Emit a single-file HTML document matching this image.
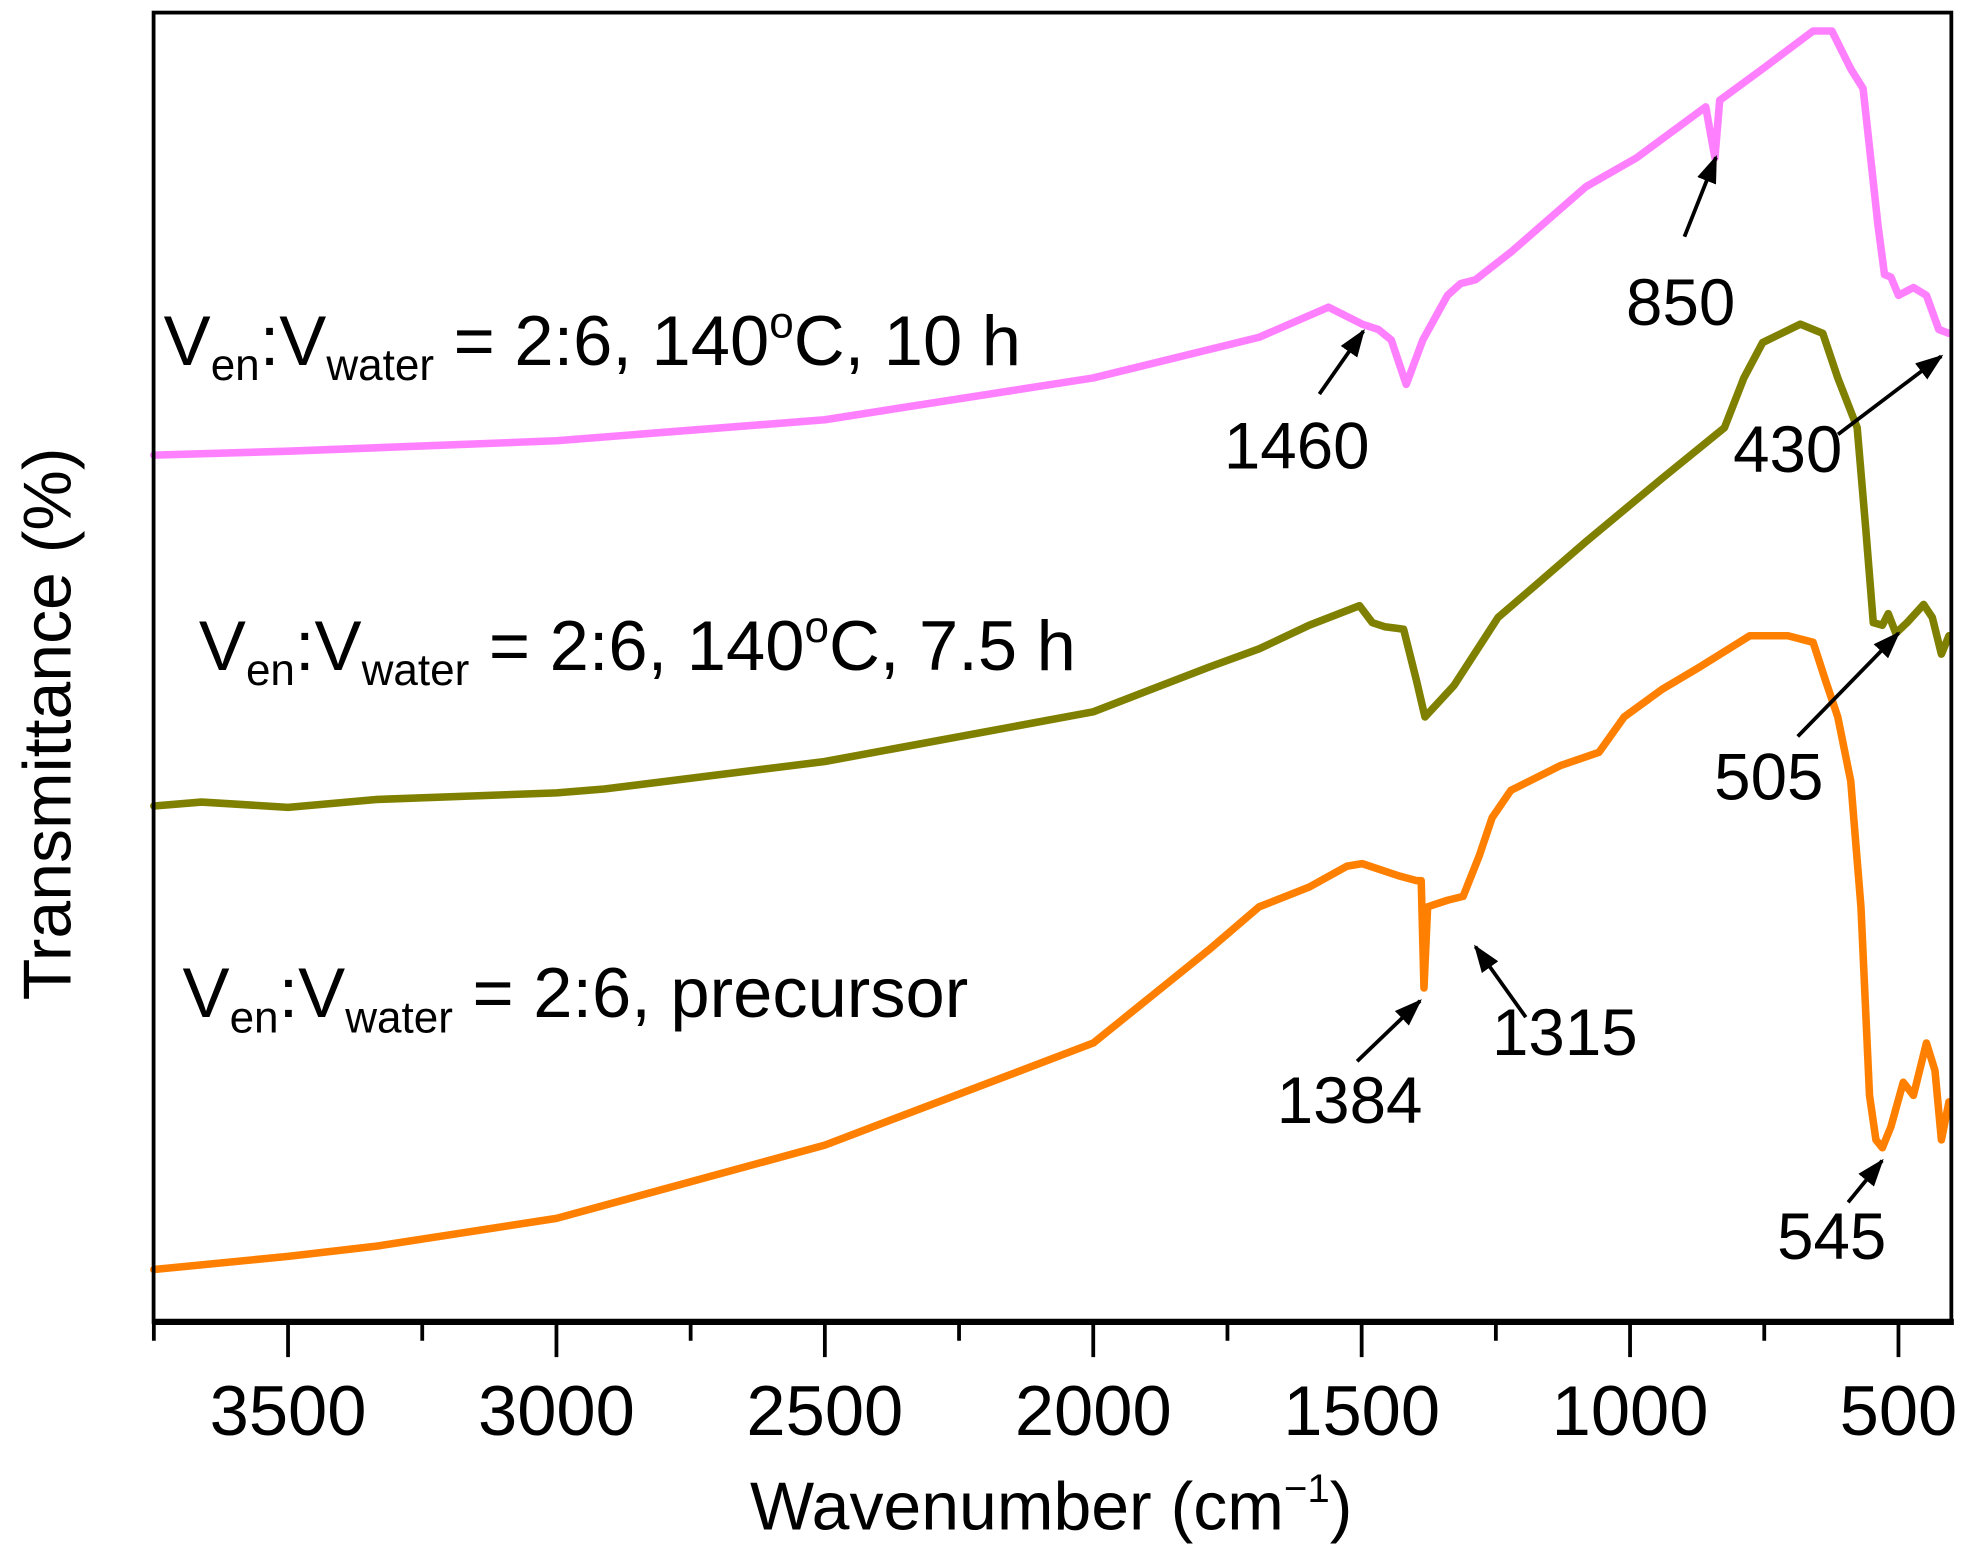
<!DOCTYPE html>
<html><head><meta charset="utf-8"><style>
html,body{margin:0;padding:0;background:#fff}
svg{display:block}
text{font-family:"Liberation Sans",Arial,sans-serif;fill:#000}
</style></head><body>
<svg id="chart" width="1974" height="1551" viewBox="0 0 1568 1232" xmlns="http://www.w3.org/2000/svg">
<defs><marker id="ah" markerWidth="22" markerHeight="16" refX="20" refY="8" orient="auto" markerUnits="userSpaceOnUse" viewBox="0 0 22 16"><path d="M0,0 L22,8 L0,16 Z" fill="#000"/></marker></defs>
<g id="plot"></g>
<rect x="122" y="10" width="1428" height="1040" fill="none" stroke="#000" stroke-width="3"/>
<line x1="121" y1="1050" x2="1552" y2="1050" stroke="#000" stroke-width="5"/>
<g id="xticks"></g>
<text x="835" y="1215" font-size="54" text-anchor="middle">Wavenumber (cm<tspan dy="-22" font-size="32">−1</tspan><tspan dy="22">)</tspan></text>
<text transform="translate(56,575) rotate(-90)" font-size="54" text-anchor="middle">Transmittance (%)</text>
<text x="130" y="290" font-size="56">V<tspan dy="12" font-size="35">en</tspan><tspan dy="-12">:V</tspan><tspan dy="12" font-size="35">water</tspan><tspan dy="-12"> = 2:6, 140</tspan><tspan dy="-22" font-size="35">o</tspan><tspan dy="22">C, 10 h</tspan></text>
<text x="158" y="532" font-size="56">V<tspan dy="12" font-size="35">en</tspan><tspan dy="-12">:V</tspan><tspan dy="12" font-size="35">water</tspan><tspan dy="-12"> = 2:6, 140</tspan><tspan dy="-22" font-size="35">o</tspan><tspan dy="22">C, 7.5 h</tspan></text>
<text x="145" y="808" font-size="56">V<tspan dy="12" font-size="35">en</tspan><tspan dy="-12">:V</tspan><tspan dy="12" font-size="35">water</tspan><tspan dy="-12"> = 2:6, precursor</tspan></text>
<g id="annots"></g>
</svg>
<script>
var wPink=[3750,3500,3000,2500,2000,1691,1562,1499,1469,1445,1417,1386,1340,1316,1288,1222,1082,988,859,842,833,753,659,624,589,566,538,526,514,500,472,448,425,406];
var tPink=[66.2,66.5,67.3,68.9,72.1,75.2,77.5,76.2,75.8,75.0,71.6,75.0,78.4,79.3,79.6,81.7,86.7,88.9,92.8,88.9,93.3,95.7,98.6,98.6,95.7,94.2,83.7,80.0,79.8,78.4,79.0,78.4,75.8,75.5];
var wOlive=[3750,3661,3500,3333,3000,2911,2500,2000,1785,1691,1598,1504,1480,1457,1422,1398,1382,1328,1246,1175,1082,941,824,788,753,683,641,613,577,561,547,530,519,505,484,453,437,420,406];
var tOlive=[39.4,39.7,39.3,39.9,40.4,40.7,42.8,46.6,50.0,51.4,53.2,54.7,53.4,53.1,52.9,49.0,46.2,48.6,53.8,56.3,59.6,64.4,68.3,72.1,74.8,76.2,75.5,72.1,68.3,60.6,53.4,53.2,54.1,52.6,53.4,54.8,53.8,51.0,52.4];
var wOrange=[3750,3500,3333,3000,2500,2000,1785,1691,1598,1528,1499,1433,1398,1389,1384,1377,1340,1311,1281,1257,1222,1129,1058,1011,941,871,777,706,659,636,613,589,570,554,542,530,514,491,472,448,432,420,406];
var tOrange=[4.0,5.0,5.8,7.9,13.5,21.3,28.4,31.7,33.2,34.8,35.0,34.1,33.7,33.7,25.5,31.7,32.2,32.5,35.6,38.5,40.6,42.5,43.5,46.2,48.3,50.0,52.4,52.4,51.9,49.0,46.2,41.3,31.7,17.3,13.9,13.3,14.9,18.3,17.3,21.3,19.2,13.9,16.8];
var xMajor=[3500,3000,2500,2000,1500,1000,500];
var xMinor=[3750,3250,2750,2250,1750,1250,750];
var annLabels=["850","1460","430","505","1315","1384","545"];
var NS="http://www.w3.org/2000/svg";
function X(w){return 1508+(500-w)*0.4264;}
function Y(t){return 1050-t*10.4;}
function mk(tag,at,parent){var e=document.createElementNS(NS,tag);for(var k in at)e.setAttribute(k,at[k]);parent.appendChild(e);return e;}
var plot=document.getElementById('plot');
function series(ws,ts,col,name){
  var n=Math.min(ws.length,ts.length),d='';
  for(var i=0;i<n;i++)d+=(i?'L':'M')+X(ws[i]).toFixed(1)+','+Y(ts[i]).toFixed(1);
  var p=mk('path',{d:d,fill:'none',stroke:col,'stroke-width':6,'stroke-linejoin':'round','stroke-linecap':'round'},plot);
  
  
}
series(wPink,tPink,'#ff80ff','series-10h');
series(wOlive,tOlive,'#808000','series-7-5h');
series(wOrange,tOrange,'#ff8000','series-precursor');
var xt=document.getElementById('xticks');
xMajor.forEach(function(w){
  var l=mk('line',{x1:X(w),y1:1050,x2:X(w),y2:1078,stroke:'#000','stroke-width':3},xt);
  
  
  var t=mk('text',{x:X(w),y:1140,'font-size':56,'text-anchor':'middle'},xt);
  
  
  t.textContent=w;
});
xMinor.forEach(function(w){
  var l=mk('line',{x1:X(w),y1:1050,x2:X(w),y2:1065,stroke:'#000','stroke-width':3},xt);
  
  
});
var annPos=[[1335,258,1338,188,1363,125],[1030,372,1048,313,1083,263],[1420,375,1460,345,1542,283],[1405,635,1428,585,1508,503],[1243,838,1212,808,1172,752],[1072,892,1078,843,1128,795],[1455,1000,1468,955,1495,922]];
var an=document.getElementById('annots');
annLabels.forEach(function(s,i){
  var a=annPos[i];
  var t=mk('text',{x:a[0],y:a[1],'font-size':52,'text-anchor':'middle'},an);
  
  
  t.textContent=s;
  var l=mk('line',{x1:a[2],y1:a[3],x2:a[4],y2:a[5],stroke:'#000','stroke-width':3,'marker-end':'url(#ah)'},an);
  
  
});
</script>
</body></html>
